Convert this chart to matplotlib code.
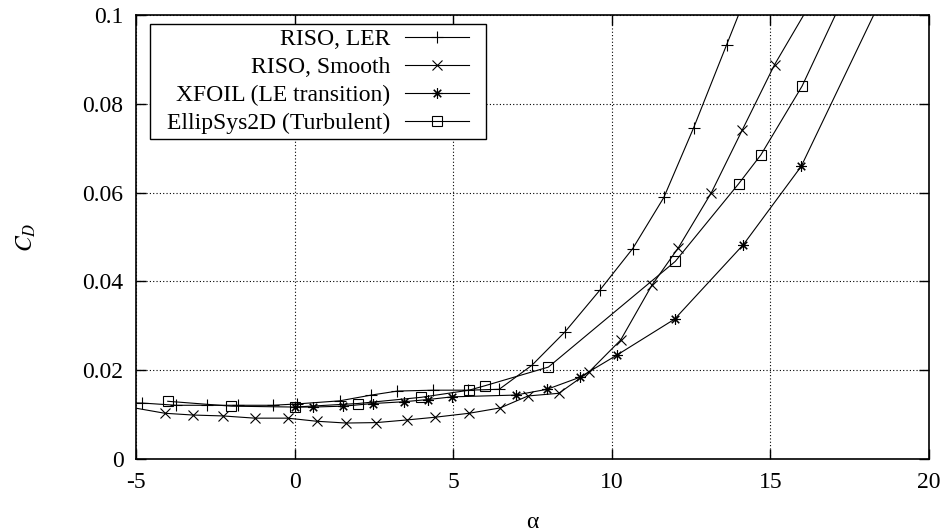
import matplotlib
matplotlib.use("Agg")
import matplotlib.pyplot as plt
from matplotlib.patches import Rectangle

plt.rcParams['font.family'] = ['Liberation Serif', 'DejaVu Serif']
plt.rcParams['mathtext.fontset'] = 'stix'
plt.rcParams['font.size'] = 17
plt.rcParams['axes.unicode_minus'] = False

# drag coefficient vs angle of attack
ler_alpha = [-5.8, -4.8, -3.74, -2.77, -1.79, -0.69, 0.07, 1.42, 2.42, 3.24, 4.37,
             5.47, 6.45, 7.48, 8.52, 9.62, 10.66, 11.64, 12.58, 13.62, 15.0]
ler_cd = [0.0127, 0.0126, 0.0121, 0.0121, 0.0121, 0.0121, 0.0124, 0.0131, 0.0144,
          0.0153, 0.0155, 0.0155, 0.0157, 0.0211, 0.0286, 0.0380, 0.0474, 0.0589,
          0.0746, 0.0933, 0.118]

smooth_alpha = [-6.0, -4.09, -3.2, -2.26, -1.26, -0.22, 0.7, 1.62, 2.58, 3.55, 4.42,
                5.5, 6.48, 7.36, 8.33, 9.28, 10.28, 11.26, 12.1, 13.14, 14.12, 15.13, 17.2]
smooth_cd = [0.0127, 0.0103, 0.0099, 0.0097, 0.0092, 0.0092, 0.0085, 0.0081, 0.0082,
             0.0088, 0.0094, 0.0103, 0.0115, 0.0142, 0.0148, 0.0196, 0.0268, 0.0391,
             0.0476, 0.0600, 0.0742, 0.0888, 0.114]

xfoil_alpha = [0.0, 0.57, 1.54, 2.48, 3.46, 4.21, 4.97, 6.97, 7.96, 8.99, 10.16,
               11.98, 14.15, 15.97, 20.0]
xfoil_cd = [0.0117, 0.0117, 0.0119, 0.0125, 0.0129, 0.0134, 0.0140, 0.0144, 0.0157,
            0.0184, 0.0234, 0.0315, 0.0483, 0.0659, 0.126]

ellip_alpha = [-4.0, -2.0, 0.0, 2.0, 4.0, 5.5, 6.0, 8.0, 12.0, 14.0, 14.7, 16.0, 18.0]
ellip_cd = [0.0130, 0.0119, 0.0117, 0.0125, 0.0139, 0.0155, 0.0165, 0.0207, 0.0445,
            0.0620, 0.0685, 0.0840, 0.1145]

fig = plt.figure(figsize=(9.52, 5.31), dpi=100)
ax = fig.add_axes([136 / 952, 1 - 459 / 531, 793 / 952, 444 / 531])

lw = 0.8
ax.plot(ler_alpha, ler_cd, color='black', lw=lw, marker='+', ms=8, mew=lw,
        label='RISO, LER')
ax.plot(smooth_alpha, smooth_cd, color='black', lw=lw, marker='x', ms=7, mew=lw,
        label='RISO, Smooth')
ax.plot(xfoil_alpha, xfoil_cd, color='black', lw=lw, marker=(8, 2, 0), ms=7.5, mew=lw,
        label='XFOIL (LE transition)')
ax.plot(ellip_alpha, ellip_cd, color='black', lw=lw, marker='s', ms=6.5, mew=lw,
        mfc='none', label='EllipSys2D (Turbulent)')

ax.set_xlim(-5, 20)
ax.set_ylim(0, 0.1)
ax.set_xticks([-5, 0, 5, 10, 15, 20])
ax.set_yticks([0, 0.02, 0.04, 0.06, 0.08, 0.1])
ax.set_yticklabels(['0', '0.02', '0.04', '0.06', '0.08', '0.1'])
ax.tick_params(direction='in', length=7, width=1, top=True, right=True, pad=9)
ax.grid(True, color='black', linestyle=(0, (1, 2)), linewidth=0.8)
for s in ax.spines.values():
    s.set_linewidth(1.2)

ax.set_xlabel('α', labelpad=14)
ax.set_ylabel('$C_D$', labelpad=32)

# key: text right-aligned, sample on the right; frame drawn separately
# so it can have wider side margins
leg = ax.legend(loc='upper left', bbox_to_anchor=(26 / 793, 1 - 9 / 444),
                borderaxespad=0, markerfirst=False, handlelength=2.7,
                handletextpad=0.64, labelspacing=0.27, borderpad=0.2,
                frameon=False)
fig.canvas.draw()
bb = leg.get_window_extent()
inv = ax.transAxes.inverted()
(x0, y0), (x1, y1) = inv.transform([[bb.x0 - 12, bb.y0], [bb.x1 + 12, bb.y1]])
ax.add_patch(Rectangle((x0, y0), x1 - x0, y1 - y0, transform=ax.transAxes,
                       facecolor='white', edgecolor='black', lw=1.0,
                       zorder=4.9, clip_on=False))

fig.savefig('out.png', dpi=100)
